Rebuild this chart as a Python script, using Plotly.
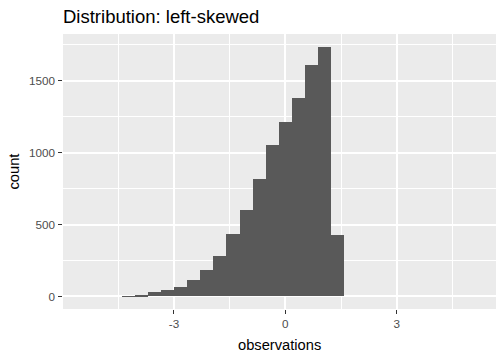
import plotly.graph_objects as go

# Histogram data
bin_start = -4.412
bin_width = 0.353
counts = [3, 12, 28, 48, 69, 118, 187, 284, 435, 601, 816, 1051, 1211, 1377, 1606, 1737, 428]
centers = [bin_start + bin_width * (i + 0.5) for i in range(len(counts))]

x_tickvals = [-3, 0, 3]
x_ticktext = ["-3", "0", "3"]
y_tickvals = [0, 500, 1000, 1500]
y_ticktext = ["0", "500", "1000", "1500"]

FONT = "Liberation Sans, Arial, sans-serif"

fig = go.Figure(
    go.Bar(
        x=centers,
        y=counts,
        width=[bin_width] * len(counts),
        marker=dict(color="#595959", line=dict(width=0)),
        hoverinfo="x+y",
    )
)

fig.update_layout(
    width=504,
    height=360,
    margin=dict(l=63, r=8, t=33.5, b=50.7),
    paper_bgcolor="white",
    plot_bgcolor="#EBEBEB",
    bargap=0,
    showlegend=False,
    font=dict(family=FONT, color="black"),
    title=dict(
        text="Distribution: left-skewed",
        x=63 / 504,
        xanchor="left",
        xref="container",
        y=1 - 16.5 / 360,
        yanchor="middle",
        yref="container",
        font=dict(size=18.5, color="black", family=FONT),
    ),
    annotations=[
        dict(text="observations", xref="paper", yref="paper", x=0.5, y=-36 / 275.8,
             xanchor="center", yanchor="middle", showarrow=False,
             font=dict(size=14.7, color="black", family=FONT)),
        dict(text="count", xref="paper", yref="paper", x=-50 / 433, y=0.5, textangle=-90,
             xanchor="center", yanchor="middle", showarrow=False,
             font=dict(size=14.7, color="black", family=FONT)),
    ],
)

fig.update_xaxes(
    automargin=False,
    range=[-5.99, 5.675],
    tickvals=x_tickvals,
    ticktext=x_ticktext,
    ticks="outside",
    ticklen=3.7,
    tickwidth=1.07,
    tickcolor="#333333",
    tickfont=dict(size=11.7, color="#4D4D4D", family=FONT),
    showgrid=True,
    gridcolor="white",
    gridwidth=1.6,
    minor=dict(tickvals=[-4.5, -1.5, 1.5, 4.5], showgrid=True, gridcolor="white", gridwidth=0.8, ticks=""),
    zeroline=False,
    showline=False,
)

fig.update_yaxes(
    automargin=False,
    range=[-86.9, 1824],
    tickvals=y_tickvals,
    ticktext=y_ticktext,
    ticks="outside",
    ticklen=3.7,
    tickwidth=1.07,
    tickcolor="#333333",
    tickfont=dict(size=11.7, color="#4D4D4D", family=FONT),
    ticklabelstandoff=1,
    showgrid=True,
    gridcolor="white",
    gridwidth=1.6,
    minor=dict(tickvals=[250, 750, 1250, 1750], showgrid=True, gridcolor="white", gridwidth=0.8, ticks=""),
    zeroline=False,
    showline=False,
)

fig.write_html(
    "out.html",
    config={"displayModeBar": False},
    post_script="document.body.style.margin='0px';",
)
